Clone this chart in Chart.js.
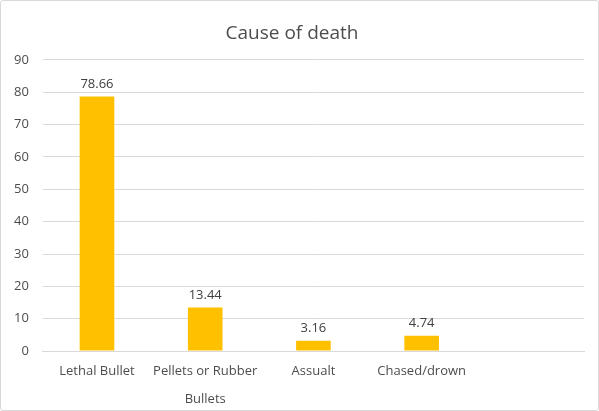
<!DOCTYPE html>
<html>
<head>
<meta charset="utf-8">
<script src="https://cdn.jsdelivr.net/npm/chart.js@4"></script>
<style>
  html, body { margin: 0; padding: 0; background: #fff; }
  #wrap { position: relative; width: 599px; height: 411px; }
  #wrap::after { content: ""; position: absolute; inset: 0; border: 1px solid #d9d9d9; border-radius: 3px; pointer-events: none; }
</style>
</head>
<body>
<div id="wrap"><canvas id="chart"></canvas></div>
<script>
// chart data
const categories = ["Lethal Bullet", ["Pellets or Rubber", "Bullets"], "Assualt", "Chased/drown", ""];
const deaths = [78.66, 13.44, 3.16, 4.74, null];
const yTicks = [0, 10, 20, 30, 40, 50, 60, 70, 80, 90];

const textColor = "#4d4d4d";
const fontFamily = "'Open Sans', 'Noto Sans', sans-serif";

// draws the value above each bar
const valueLabels = {
  id: "valueLabels",
  afterDatasetsDraw(chart) {
    const ctx = chart.ctx;
    const meta = chart.getDatasetMeta(0);
    ctx.save();
    ctx.font = "13px " + fontFamily;
    ctx.fillStyle = "#404040";
    ctx.textAlign = "center";
    ctx.textBaseline = "bottom";
    meta.data.forEach((bar, i) => {
      const v = chart.data.datasets[0].data[i];
      if (v == null) return;
      ctx.fillText(v.toFixed(2), bar.x, bar.y - 6);
    });
    ctx.restore();
  }
};

new Chart(document.getElementById("chart"), {
  type: "bar",
  data: {
    labels: categories,
    datasets: [{
      data: deaths,
      backgroundColor: "#ffc000",
      categoryPercentage: 1,
      barPercentage: 0.32
    }]
  },
  options: {
    responsive: true,
    maintainAspectRatio: false,
    animation: false,
    layout: { padding: { left: 0, right: 15, top: 10, bottom: -8 } },
    plugins: {
      legend: { display: false },
      tooltip: { enabled: false },
      title: {
        display: true,
        text: "Cause of death",
        color: textColor,
        font: { family: fontFamily, size: 19, weight: "normal" },
        padding: { top: 12, bottom: 15 }
      }
    },
    scales: {
      x: {
        grid: { display: false, drawTicks: false },
        border: { color: "#d9d9d9" },
        ticks: {
          color: textColor,
          font: { family: fontFamily, size: 13, lineHeight: 2.15 },
          maxRotation: 0,
          autoSkip: false,
          padding: 6
        }
      },
      y: {
        min: 0,
        max: 90,
        afterBuildTicks(axis) { axis.ticks = yTicks.map(v => ({ value: v })); },
        grid: { color: "#d9d9d9", drawTicks: false },
        border: { display: false },
        ticks: {
          color: textColor,
          font: { family: fontFamily, size: 13 },
          padding: 14
        }
      }
    }
  },
  plugins: [valueLabels]
});
</script>
</body>
</html>
